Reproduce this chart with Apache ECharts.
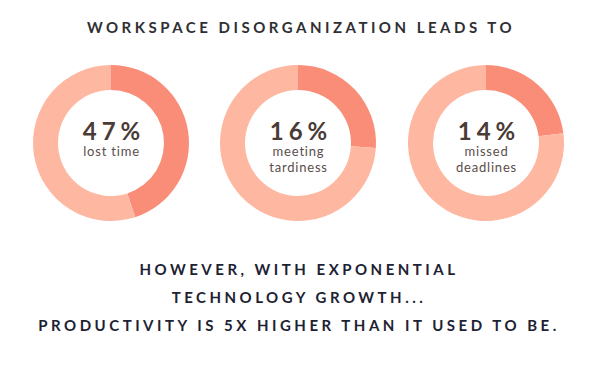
<!DOCTYPE html>
<html>
<head>
<meta charset="utf-8">
<script src="https://cdn.jsdelivr.net/npm/echarts@6/dist/echarts.min.js"></script>
<style>
  html, body { margin: 0; padding: 0; background: #ffffff; }
  #chart { width: 596px; height: 380px; }
</style>
</head>
<body>
<div id="chart"></div>
<script>
// Data
const titleText = 'WORKSPACE DISORGANIZATION LEADS TO';
const categories = ['lost time', 'meeting\ntardiness', 'missed\ndeadlines'];
const percentLabels = ['47%', '16%', '14%'];
// share of each ring drawn as highlighted (as it appears in the picture)
const sliceShares = [45, 26, 23];
const footerLines = [
  'HOWEVER, WITH EXPONENTIAL',
  'TECHNOLOGY GROWTH...',
  'PRODUCTIVITY IS 5X HIGHER THAN IT USED TO BE.'
];

const centersX = [111, 298, 486];
const centerY = 143;
const darkColor = '#F98D77';
const lightColor = '#FEB7A0';

const chart = echarts.init(document.getElementById('chart'), null, { renderer: 'svg' });

const series = sliceShares.map((v, i) => ({
  type: 'pie',
  center: [centersX[i], centerY],
  radius: [53, 78],
  startAngle: 90,
  clockwise: true,
  silent: true,
  animation: false,
  label: { show: false },
  labelLine: { show: false },
  itemStyle: { borderWidth: 0 },
  data: [
    { value: v, name: categories[i], itemStyle: { color: darkColor } },
    { value: 100 - v, name: 'rest', itemStyle: { color: lightColor } }
  ]
}));

const spacing = {};
const graphics = [];
graphics.push({
  type: 'text', x: 301, y: 27,
  style: { text: titleText, fill: '#2f2f33', font: 'bold 15px Lato', textAlign: 'center', textVerticalAlign: 'middle' }
});
spacing[titleText] = 3.5;
percentLabels.forEach((p, i) => {
  graphics.push({
    type: 'text', x: centersX[i] + 3, y: 130,
    style: { text: p, fill: '#4a3b36', font: 'bold 24px Lato', textAlign: 'center', textVerticalAlign: 'middle' }
  });
  spacing[p] = 5;
  categories[i].split('\n').forEach((line, j) => {
    graphics.push({
      type: 'text', x: centersX[i] + 0.5, y: 151 + j * 16,
      style: { text: line, fill: '#5a4d49', font: '13px Lato', textAlign: 'center', textVerticalAlign: 'middle' }
    });
    spacing[line] = 0.8;
  });
});
footerLines.forEach((line, i) => {
  graphics.push({
    type: 'text', x: 299, y: 269 + i * 28,
    style: { text: line, fill: '#1d2233', font: 'bold 15px Lato', textAlign: 'center', textVerticalAlign: 'middle' }
  });
  spacing[line] = 3.5;
});

chart.setOption({
  backgroundColor: '#ffffff',
  animation: false,
  series: series,
  graphic: graphics
});

function applySpacing() {
  document.querySelectorAll('#chart text').forEach(t => {
    const s = spacing[t.textContent.trim()];
    if (s != null) t.style.letterSpacing = s + 'px';
  });
}
applySpacing();
chart.on('finished', applySpacing);
</script>
</body>
</html>
